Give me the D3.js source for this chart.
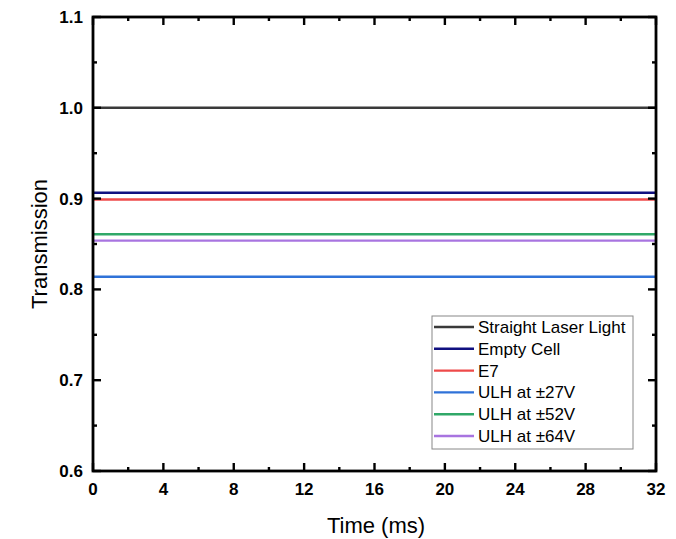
<!DOCTYPE html>
<html>
<head>
<meta charset="utf-8">
<script src="https://cdn.jsdelivr.net/npm/d3@7"></script>
<style>
  body { margin: 0; background: #fff; }
  text { font-family: Arial, "Liberation Sans", sans-serif; }
</style>
</head>
<body>
<svg id="chart" width="676" height="539"></svg>
<script>
// data
const seriesNames = ["Straight Laser Light", "Empty Cell", "E7", "ULH at \u00b127V", "ULH at \u00b152V", "ULH at \u00b164V"];
const seriesValues = [1.0, 0.9065, 0.899, 0.814, 0.8607, 0.8537];
const seriesColors = ["#3a3a3a", "#101080", "#ee4a4a", "#2f72d8", "#30a868", "#a874e0"];
const timeRange = [0, 32];
const xTicks = [0, 4, 8, 12, 16, 20, 24, 28, 32];
const yTicks = [0.6, 0.7, 0.8, 0.9, 1.0, 1.1];

const svg = d3.select("#chart");
const m = { left: 93, right: 656, top: 17, bottom: 471 };

const x = d3.scaleLinear().domain(timeRange).range([m.left, m.right]);
const y = d3.scaleLinear().domain([0.6, 1.1]).range([m.bottom, m.top]);

// series lines (flat over the whole time range)
const line = d3.line().x(d => x(d[0])).y(d => y(d[1]));
seriesValues.forEach((v, i) => {
  svg.append("path")
    .attr("d", line([[timeRange[0], v], [timeRange[1], v]]))
    .attr("fill", "none")
    .attr("stroke", seriesColors[i])
    .attr("stroke-width", 2.4);
});

// ticks pointing inward on all four sides
const xMinor = d3.range(2, 32, 4);
const yMinor = d3.range(0.65, 1.1, 0.1);

function addTicks(g, vals, len, axis, side) {
  vals.forEach(v => {
    if (axis === "x") {
      const px = x(v);
      const y0 = side === "bottom" ? m.bottom : m.top;
      const dir = side === "bottom" ? -1 : 1;
      g.append("line").attr("x1", px).attr("x2", px)
        .attr("y1", y0).attr("y2", y0 + dir * len);
    } else {
      const py = y(v);
      const x0 = side === "left" ? m.left : m.right;
      const dir = side === "left" ? 1 : -1;
      g.append("line").attr("x1", x0).attr("x2", x0 + dir * len)
        .attr("y1", py).attr("y2", py);
    }
  });
}
const tickG = svg.append("g").attr("stroke", "#000").attr("stroke-width", 2.4);
addTicks(tickG, xTicks, 8, "x", "bottom");
addTicks(tickG, xTicks, 8, "x", "top");
addTicks(tickG, xMinor, 4, "x", "bottom");
addTicks(tickG, xMinor, 4, "x", "top");
addTicks(tickG, yTicks, 8, "y", "left");
addTicks(tickG, yTicks, 8, "y", "right");
addTicks(tickG, yMinor, 4, "y", "left");
addTicks(tickG, yMinor, 4, "y", "right");

// frame
svg.append("rect")
  .attr("x", m.left).attr("y", m.top)
  .attr("width", m.right - m.left).attr("height", m.bottom - m.top)
  .attr("fill", "none").attr("stroke", "#000").attr("stroke-width", 2.8);

// tick labels
svg.append("g").selectAll("text").data(xTicks).join("text")
  .attr("x", d => x(d)).attr("y", m.bottom + 24)
  .attr("text-anchor", "middle")
  .attr("font-size", 17).attr("font-weight", "bold")
  .text(d => d);

svg.append("g").selectAll("text").data(yTicks).join("text")
  .attr("x", m.left - 10).attr("y", d => y(d) + 6)
  .attr("text-anchor", "end")
  .attr("font-size", 17).attr("font-weight", "bold")
  .text(d => d3.format(".1f")(d));

// axis titles
svg.append("text")
  .attr("x", 376).attr("y", 533)
  .attr("text-anchor", "middle").attr("font-size", 22)
  .text("Time (ms)");

svg.append("text")
  .attr("transform", "translate(47, 244) rotate(-90)")
  .attr("text-anchor", "middle").attr("font-size", 22)
  .text("Transmission");

// legend
const lg = svg.append("g").attr("transform", "translate(432, 316)");
lg.append("rect")
  .attr("width", 201).attr("height", 133)
  .attr("fill", "#fff").attr("stroke", "#888").attr("stroke-width", 1);
seriesNames.forEach((name, i) => {
  const cy = 11 + i * 21.8;
  lg.append("line")
    .attr("x1", 2).attr("x2", 42)
    .attr("y1", cy).attr("y2", cy)
    .attr("stroke", seriesColors[i]).attr("stroke-width", 2.4);
  lg.append("text")
    .attr("x", 46).attr("y", cy + 6)
    .attr("font-size", 17)
    .text(name);
});
</script>
</body>
</html>
